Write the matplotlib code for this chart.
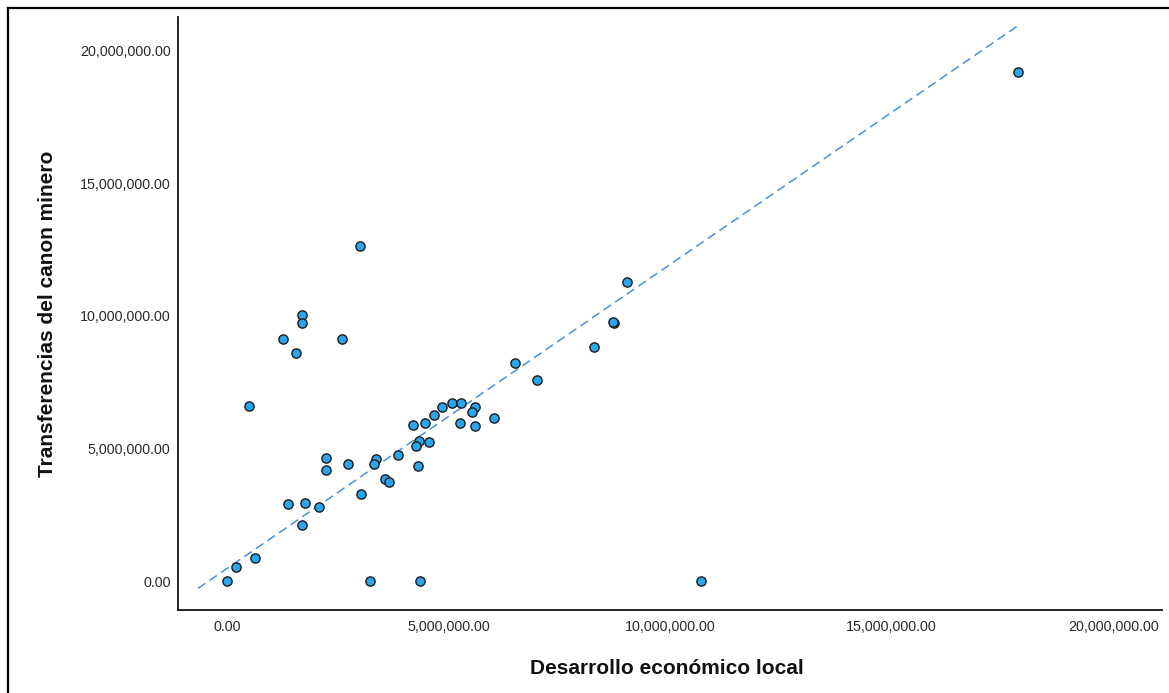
import numpy as np
import matplotlib
matplotlib.use("Agg")
import matplotlib.pyplot as plt
from matplotlib.lines import Line2D
from matplotlib.ticker import FuncFormatter

plt.rcParams['font.family'] = ['Liberation Sans', 'DejaVu Sans']

# Desarrollo económico local (x) and Transferencias del canon minero (y)
desarrollo = [1.696e6, 1.696e6, 1.268e6, 2.597e6, 1.554e6, 0.502e6, 6.502e6, 6.989e6,
              4.849e6, 5.074e6, 5.288e6, 5.604e6, 5.540e6, 4.673e6, 4.464e6, 4.196e6,
              5.252e6, 5.604e6, 6.020e6, 4.342e6, 4.263e6, 4.572e6, 3.858e6, 4.308e6,
              3.371e6, 3.333e6, 2.230e6, 2.230e6, 2.725e6, 3.559e6, 3.653e6, 3.034e6,
              1.381e6, 1.764e6, 2.088e6, 1.696e6, 0.646e6, 0.203e6, 0.016e6, 3.227e6,
              4.363e6, 10.69e6, 9.031e6, 8.739e6, 8.716e6, 8.281e6, 17.86e6, 3.011e6]
transferencias = [10.04e6, 9.72e6, 9.12e6, 9.12e6, 8.615e6, 6.615e6, 8.226e6, 7.574e6,
                  6.577e6, 6.698e6, 6.698e6, 6.574e6, 6.366e6, 6.257e6, 5.970e6, 5.879e6,
                  5.955e6, 5.857e6, 6.162e6, 5.294e6, 5.106e6, 5.234e6, 4.755e6, 4.351e6,
                  4.604e6, 4.426e6, 4.630e6, 4.189e6, 4.404e6, 3.842e6, 3.747e6, 3.272e6,
                  2.894e6, 2.955e6, 2.804e6, 2.102e6, 0.879e6, 0.517e6, 0.0, 0.0,
                  0.0, 0.0, 11.29e6, 9.747e6, 9.77e6, 8.842e6, 19.20e6, 12.65e6]

# Fit line
fit_slope = 1.1476
fit_intercept = 0.466e6
fit_x_range = [-0.65e6, 17.85e6]

x_ticks = [0, 5e6, 10e6, 15e6, 20e6]
y_ticks = [0, 5e6, 10e6, 15e6, 20e6]
x_label = "Desarrollo económico local"
y_label = "Transferencias del canon minero"

W, H = 1169, 693
fig = plt.figure(figsize=(W / 100, H / 100), dpi=100)
ax_l, ax_r, ax_t, ax_b = 178, 1162, 17, 610
ax = fig.add_axes([ax_l / W, 1 - ax_b / H, (ax_r - ax_l) / W, (ax_b - ax_t) / H])

x_arr = np.array(desarrollo)
y_arr = np.array(transferencias)
fx = np.array(fit_x_range)
fy = fit_slope * fx + fit_intercept
ax.plot(fx, fy, color='#4a90d9', lw=1.1, dashes=(5.9, 3.3), zorder=2)
ax.scatter(x_arr, y_arr, s=44, facecolor='#2aa5f0', edgecolor='#1a1a1a',
           linewidth=1.0, zorder=3)

ax.set_xlim(-1.10e6, 21.1e6)
ax.set_ylim(-1.094e6, 21.28e6)
ax.set_xticks(x_ticks)
ax.set_yticks(y_ticks)
fmt = FuncFormatter(lambda v, p: f"{v:,.2f}")
ax.xaxis.set_major_formatter(fmt)
ax.yaxis.set_major_formatter(fmt)
ax.tick_params(length=0, labelsize=10.3, labelcolor='#2a2a2a')
ax.tick_params(axis='y', pad=5.3)
ax.tick_params(axis='x', pad=7.5)
for s in ['top', 'right']:
    ax.spines[s].set_visible(False)
for s in ['left', 'bottom']:
    ax.spines[s].set_linewidth(1.3)
    ax.spines[s].set_color('#111111')

ax.set_xlabel(x_label, fontsize=15, fontweight='bold', color='#111111')
ax.xaxis.label.set_va('baseline')
ax.xaxis.set_label_coords(0.497, (ax_b - 674.5) / (ax_b - ax_t))
ax.set_ylabel(y_label, fontsize=15, fontweight='bold', color='#111111')
ax.yaxis.label.set_va('baseline')
ax.yaxis.set_label_coords((53.5 - ax_l) / (ax_r - ax_l), 0.5)

# outer frame
fig.add_artist(Line2D([8.0 / W, 8.0 / W], [0, 1 - 7.5 / H], transform=fig.transFigure,
                      color='black', lw=1.6))
fig.add_artist(Line2D([8.0 / W, 1], [1 - 7.5 / H, 1 - 7.5 / H], transform=fig.transFigure,
                      color='black', lw=1.6))

fig.savefig("out.png", dpi=100)
